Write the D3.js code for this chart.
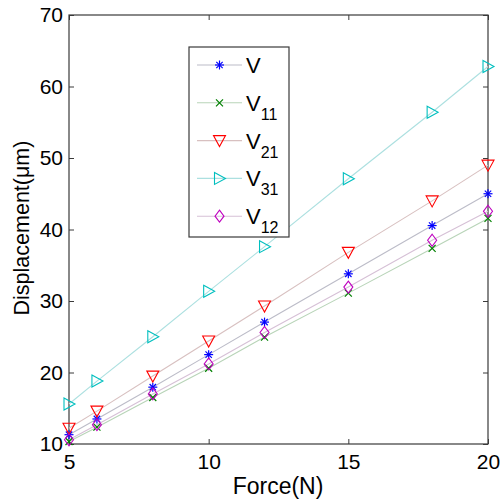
<!DOCTYPE html>
<html lang="en">
<head>
<meta charset="UTF-8">
<title>Displacement vs Force</title>
<script src="https://cdnjs.cloudflare.com/ajax/libs/d3/7.9.0/d3.min.js"></script>
<style>
  body { margin: 0; background: #fff; font-family: 'Liberation Sans', Arial, sans-serif; }
</style>
</head>
<body>
<div id="root"></div>
<script>
  // data
  const force = [5, 6, 8, 10, 12, 15, 18, 20]
  const V   = [11.3, 13.5, 17.95, 22.5, 27.05, 33.8, 40.55, 45.0]
  const V11 = [10.35, 12.35, 16.5, 20.6, 24.95, 31.1, 37.35, 41.55]
  const V21 = [12.2, 14.6, 19.5, 24.4, 29.3, 36.8, 44.0, 49.0]
  const V31 = [15.6, 18.8, 25.0, 31.35, 37.6, 47.1, 56.4, 62.8]
  const V12 = [10.6, 12.7, 17.0, 21.2, 25.6, 31.95, 38.5, 42.55]
  const xTicks = [5, 10, 15, 20]
  const yTicks = [10, 20, 30, 40, 50, 60, 70]

  const series = [
    { name: 'V', sub: '', values: V, color: '#0000ff', line: '#bcbcc8', marker: 'star' },
    { name: 'V', sub: '11', values: V11, color: '#008000', line: '#b8d4b8', marker: 'x' },
    { name: 'V', sub: '21', values: V21, color: '#ff0000', line: '#d8c0c0', marker: 'tridown' },
    { name: 'V', sub: '31', values: V31, color: '#00bfbf', line: '#ace0e0', marker: 'triright' },
    { name: 'V', sub: '12', values: V12, color: '#bf00bf', line: '#d6c0d6', marker: 'diamond' }
  ]

  const W = 501, H = 500
  const margin = { top: 15, left: 69, right: 13, bottom: 56 }
  const w = W - margin.left - margin.right
  const h = H - margin.top - margin.bottom
  const axisColor = '#3a3a3a'

  const svg = d3.select('#root').append('svg')
    .attr('width', W).attr('height', H)
    .style('display', 'block')

  const x = d3.scaleLinear().domain([5, 20]).range([0, w])
  const y = d3.scaleLinear().domain([10, 70]).range([h, 0])

  const g = svg.append('g').attr('transform', `translate(${margin.left},${margin.top})`)

  // axes, MATLAB style: ticks inward on all four sides
  const styleAxis = sel => {
    sel.select('.domain').remove()
    sel.selectAll('line').attr('stroke', axisColor)
    sel.selectAll('text').attr('fill', '#000')
      .style('font-family', "'Liberation Sans', Arial, sans-serif")
      .style('font-size', '21px')
  }
  g.append('g').attr('transform', `translate(0,${h})`)
    .call(d3.axisBottom(x).tickValues(xTicks).tickSize(-5).tickPadding(10))
    .call(styleAxis)
  g.append('g')
    .call(d3.axisLeft(y).tickValues(yTicks).tickSize(-5).tickPadding(6))
    .call(styleAxis)
  g.append('g')
    .call(d3.axisTop(x).tickValues(xTicks).tickSize(-5).tickFormat(''))
    .call(styleAxis)
  g.append('g').attr('transform', `translate(${w},0)`)
    .call(d3.axisRight(y).tickValues(yTicks).tickSize(-5).tickFormat(''))
    .call(styleAxis)
  g.append('rect').attr('width', w).attr('height', h)
    .attr('fill', 'none').attr('stroke', axisColor).attr('stroke-width', 1.2)

  // marker drawing
  const drawMarker = (sel, type, color) => {
    if (type === 'star') {
      const r = 4.5
      ;[0, 45, 90, 135].forEach(a => {
        const rad = a * Math.PI / 180
        sel.append('line')
          .attr('x1', -r * Math.cos(rad)).attr('y1', -r * Math.sin(rad))
          .attr('x2', r * Math.cos(rad)).attr('y2', r * Math.sin(rad))
          .attr('stroke', color).attr('stroke-width', 1.2)
      })
    } else if (type === 'x') {
      const r = 3.5
      sel.append('path').attr('d', `M${-r},${-r}L${r},${r}M${-r},${r}L${r},${-r}`)
        .attr('stroke', color).attr('stroke-width', 1.2).attr('fill', 'none')
    } else if (type === 'tridown') {
      sel.append('path').attr('d', 'M-6,-5L6,-5L0,6Z')
        .attr('stroke', color).attr('stroke-width', 1.1).attr('fill', 'none')
    } else if (type === 'triright') {
      sel.append('path').attr('d', 'M-5,-6L6,0L-5,6Z')
        .attr('stroke', color).attr('stroke-width', 1.1).attr('fill', 'none')
    } else if (type === 'diamond') {
      sel.append('path').attr('d', 'M0,-6L4.5,0L0,6L-4.5,0Z')
        .attr('stroke', color).attr('stroke-width', 1.1).attr('fill', 'none')
    }
  }

  const line = d3.line().x((d, i) => x(force[i])).y(d => y(d))

  series.forEach(s => {
    g.append('path').datum(s.values)
      .attr('d', line)
      .attr('fill', 'none')
      .attr('stroke', s.line)
      .attr('stroke-width', 1.1)
  })
  series.forEach(s => {
    g.selectAll(null).data(s.values).enter().append('g')
      .attr('transform', (d, i) => `translate(${x(force[i])},${y(d)})`)
      .each(function () { drawMarker(d3.select(this), s.marker, s.color) })
  })

  // axis titles
  svg.append('text')
    .attr('x', 278).attr('y', 494)
    .attr('text-anchor', 'middle')
    .style('font-size', '23px')
    .text('Force(N)')
  svg.append('text')
    .attr('transform', `translate(29,228) rotate(-90)`)
    .attr('text-anchor', 'middle')
    .style('font-size', '21.5px')
    .text('Displacement(μm)')

  // legend
  const legend = svg.append('g').attr('transform', 'translate(189,47)')
  legend.append('rect').attr('width', 100).attr('height', 190)
    .attr('fill', '#fff').attr('stroke', axisColor).attr('stroke-width', 1.2)
  series.forEach((s, i) => {
    const ly = 18 + i * 37.8
    const item = legend.append('g').attr('transform', `translate(0,${ly})`)
    item.append('line').attr('x1', 8).attr('x2', 53).attr('y1', 0).attr('y2', 0)
      .attr('stroke', s.line).attr('stroke-width', 1.1)
    const m = item.append('g').attr('transform', 'translate(30.5,0)')
    drawMarker(m, s.marker, s.color)
    const t = item.append('text').attr('x', 57).attr('y', 8)
      .style('font-size', '22px')
    t.append('tspan').text(s.name)
    if (s.sub) {
      t.append('tspan').attr('dy', 9).style('font-size', '16px').text(s.sub)
    }
  })
</script>
</body>
</html>
